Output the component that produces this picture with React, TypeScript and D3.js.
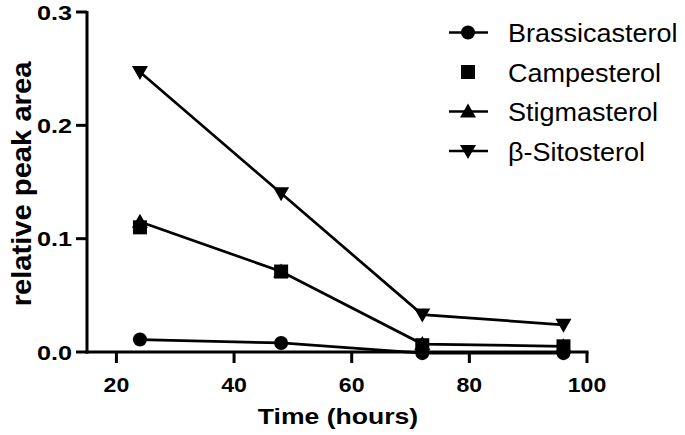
import React from "react";
import * as d3 from "d3";

const timePoints = [24, 48, 72, 96];
const seriesNames = ["Brassicasterol", "Campesterol", "Stigmasterol", "β-Sitosterol"];
const brassicasterol = [0.011, 0.008, -0.001, -0.001];
const campesterol = [0.110, 0.071, 0.006, 0.005];
const stigmasterol = [0.115, 0.071, 0.007, 0.005];
const sitosterol = [0.247, 0.140, 0.033, 0.024];
const xTicks = [20, 40, 60, 80, 100];
const yTicks = [0, 0.1, 0.2, 0.3];

const W = 685, H = 435;
const x = d3.scaleLinear().domain([15, 100]).range([87, 587]);
const y = d3.scaleLinear().domain([0, 0.3]).range([352, 12]);

type Sym = "circle" | "square" | "up" | "down";
const series: { name: string; values: number[]; sym: Sym; line: boolean }[] = [
  { name: seriesNames[0], values: brassicasterol, sym: "circle", line: true },
  { name: seriesNames[1], values: campesterol, sym: "square", line: false },
  { name: seriesNames[2], values: stigmasterol, sym: "up", line: true },
  { name: seriesNames[3], values: sitosterol, sym: "down", line: true },
];

function Marker({ cx, cy, sym }: { cx: number; cy: number; sym: Sym }) {
  if (sym === "circle") return <circle cx={cx} cy={cy} r={7} fill="#000" />;
  if (sym === "square") return <rect x={cx - 7} y={cy - 7} width={14} height={14} fill="#000" />;
  if (sym === "up")
    return <path d={`M${cx},${cy - 8}L${cx + 8},${cy + 6}L${cx - 8},${cy + 6}Z`} fill="#000" />;
  return <path d={`M${cx},${cy + 8}L${cx + 8},${cy - 6}L${cx - 8},${cy - 6}Z`} fill="#000" />;
}

export default function App() {
  const line = d3
    .line<number>()
    .x((_, i) => x(timePoints[i]))
    .y((d) => y(d));
  const font = "'Liberation Sans', Arial, sans-serif";
  return (
    <svg width={W} height={H} style={{ position: "absolute", left: 0, top: 0, background: "#fff" }}>
      <rect width={W} height={H} fill="#fff" />
      {/* axes */}
      <g stroke="#000" strokeWidth={3} fill="none">
        <line x1={87} y1={y(0.3) - 1} x2={87} y2={353.5} />
        <line x1={85.5} y1={352} x2={x(100) + 1.5} y2={352} />
        {yTicks.map((t) => (
          <line key={t} x1={76} y1={y(t)} x2={87} y2={y(t)} />
        ))}
        {xTicks.map((t) => (
          <line key={t} x1={x(t)} y1={352} x2={x(t)} y2={363} />
        ))}
      </g>
      <g fontFamily={font} fontWeight="bold" fontSize={21} fill="#000">
        {yTicks.map((t) => (
          <text key={t} transform={`translate(72,${y(t) + 7.5}) scale(1.2,1)`} textAnchor="end">
            {t.toFixed(1)}
          </text>
        ))}
        {xTicks.map((t) => (
          <text key={t} transform={`translate(${x(t)},392) scale(1.1,1)`} textAnchor="middle">
            {t}
          </text>
        ))}
        <text transform="translate(338,424) scale(1.156,1)" textAnchor="middle" fontSize={23}>
          Time (hours)
        </text>
        <text transform={`translate(31,184) rotate(-90) scale(1.08,1)`} textAnchor="middle" fontSize={27}>
          relative peak area
        </text>
      </g>
      {/* series */}
      {series.map((s) => (
        <g key={s.name}>
          {s.line && <path d={line(s.values) || ""} stroke="#000" strokeWidth={2.7} fill="none" />}
          {s.values.map((v, i) => (
            <Marker key={i} cx={x(timePoints[i])} cy={y(v)} sym={s.sym} />
          ))}
        </g>
      ))}
      {/* legend */}
      <g fontFamily={font} fontSize={25} fill="#000">
        {series.map((s, i) => {
          const cy = 32.5 + i * 39.5;
          return (
            <g key={s.name}>
              {s.line && <line x1={449} y1={cy} x2={488} y2={cy} stroke="#000" strokeWidth={2.7} />}
              <Marker cx={468} cy={cy} sym={s.sym} />
              <text transform={`translate(508,${cy + 9.5}) scale(1.08,1)`}>{s.name}</text>
            </g>
          );
        })}
      </g>
    </svg>
  );
}
